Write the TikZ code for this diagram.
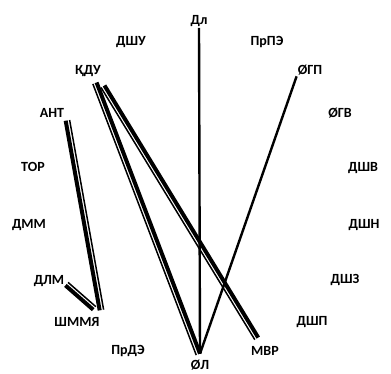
\documentclass[tikz,border=0pt]{standalone}
\usepackage{fontspec}
\setmainfont{Carlito}
\usetikzlibrary{calc}
\tikzset{
  lbl/.style={font=\bfseries\fontsize{14}{16}\selectfont, inner sep=1pt},
  slimlink/.style={line width=2.4pt},
  fatlink/.style={line width=4pt},
  hairlink/.style={line width=1.5pt},
}
% thick line with a thin twin beside it
\newcommand{\pairlink}[4]{%
  \draw[fatlink,#4] (#1) -- (#2);
  \draw[hairlink,#4] ($(#1)!4pt!#3:(#2)$) -- ++($(#2)-(#1)$);
}
\begin{document}
\begin{tikzpicture}[x=1pt,y=-1pt]
\useasboundingbox (0,0) rectangle (391,374);
\node[lbl] (dl) at (199,21) {Дл};
\node[lbl] (dshu) at (131,42) {ДШУ};
\node[lbl] (prpe) at (267,42) {ПрПЭ};
\node[lbl] (kdu) at (88,71) {ҚДУ};
\node[lbl] (ogp) at (310,70) {ØГП};
\node[lbl] (ant) at (52,113) {АНТ};
\node[lbl] (ogv) at (340,113) {ØГВ};
\node[lbl] (tor) at (33,167) {ТОР};
\node[lbl] (dshv) at (363,168) {ДШВ};
\node[lbl] (dmm) at (29,225) {ДММ};
\node[lbl] (dshn) at (364,225) {ДШН};
\node[lbl] (dlm) at (49,281) {ДЛМ};
\node[lbl] (dshz) at (345,280) {ДШЗ};
\node[lbl] (shmmya) at (77,322) {ШММЯ};
\node[lbl] (dshp) at (312,322) {ДШП};
\node[lbl] (prde) at (128,351) {ПрДЭ};
\node[lbl] (mvr) at (265,351) {МВР};
\node[lbl, inner ysep=6pt] (ol) at (200,365) {ØЛ};
\draw[slimlink] (dl.south) -- (ol.north);
\draw[slimlink] (ogp.south west) -- (ol.north);
\pairlink{kdu.-45}{ol.north}{-90}{shorten <=5pt}
\pairlink{kdu.-30}{mvr.110}{-90}{shorten <=9pt, shorten >=9pt}
\pairlink{ant.south east}{shmmya.north east}{90}{shorten <=2pt, shorten >=6pt}
\pairlink{dlm.-15}{shmmya.north east}{90}{shorten >=10pt}
\end{tikzpicture}
\end{document}
